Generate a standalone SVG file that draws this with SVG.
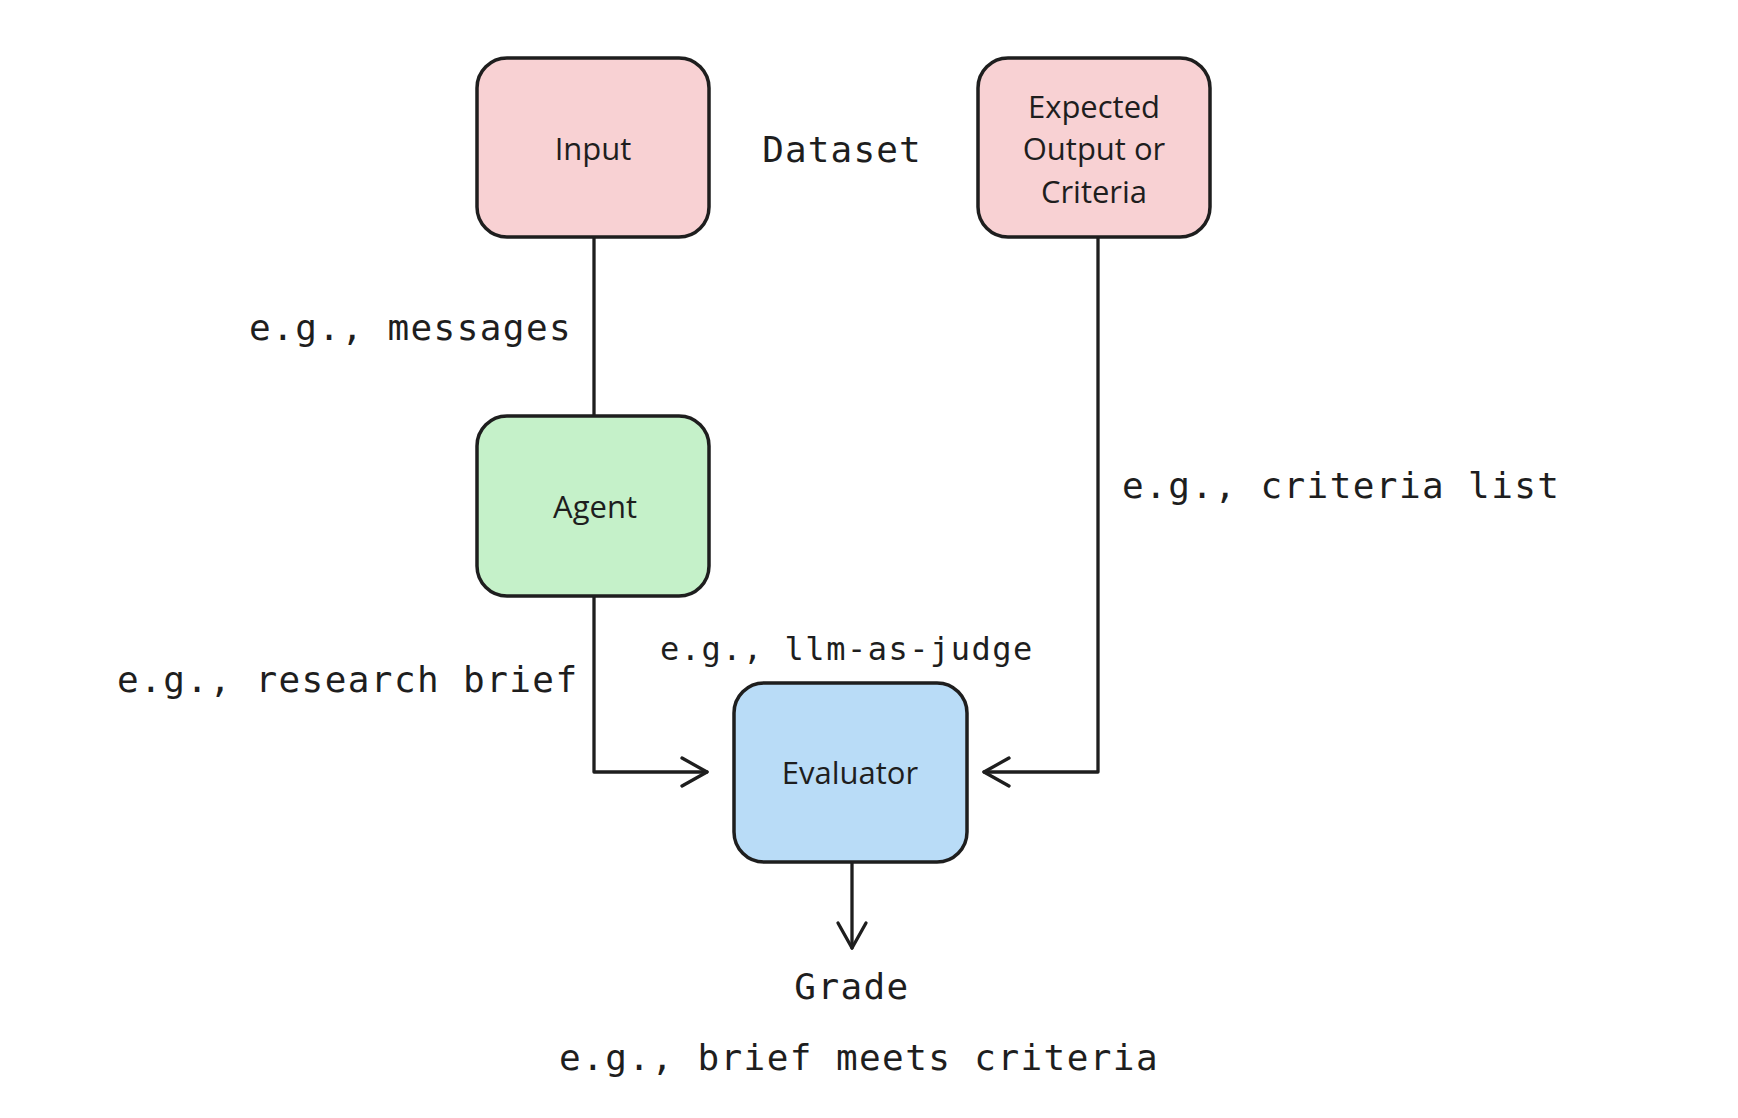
<svg xmlns="http://www.w3.org/2000/svg" width="1738" height="1118" viewBox="0 0 1738 1118">
<style>
.box{stroke:#1e1e1e;stroke-width:3.5}
.pink{fill:#f8d1d3}
.green{fill:#c5f1c9}
.blue{fill:#b9dcf7}
.lbl{font-family:"Open Sans","Noto Sans",sans-serif;font-size:31px;fill:#1e1e1e;text-anchor:middle;dominant-baseline:central}
.mono{font-family:"DejaVu Sans Mono","Liberation Mono",monospace;font-size:36px;letter-spacing:1.4px;fill:#1e1e1e;dominant-baseline:central}
.conn{fill:none;stroke:#1e1e1e;stroke-width:3.3;stroke-linecap:round;stroke-linejoin:round}
</style>
<rect width="1738" height="1118" fill="#ffffff"/>
<g id="connectors">
<path class="conn" d="M594 238 V416"/>
<path class="conn" d="M594 597 V772 H707"/>
<path class="conn" d="M682 758 L707 772 L682 786"/>
<path class="conn" d="M1098 238 V772 H984"/>
<path class="conn" d="M1009 758 L984 772 L1009 786"/>
<path class="conn" d="M852 863 V948"/>
<path class="conn" d="M838 923 L852 948 L866 923"/>
</g>
<g id="input">
<rect class="box pink" x="477" y="58" width="232" height="179" rx="30"/>
<text class="lbl" x="593" y="148">Input</text>
</g>
<g id="dataset">
<text class="mono" x="842" y="149" text-anchor="middle" style="letter-spacing:1.1px">Dataset</text>
</g>
<g id="expected">
<rect class="box pink" x="978" y="58" width="232" height="179" rx="30"/>
<text class="lbl" x="1094" y="106">Expected</text>
<text class="lbl" x="1094" y="148">Output or</text>
<text class="lbl" x="1094" y="191">Criteria</text>
</g>
<g id="agent">
<rect class="box green" x="477" y="416" width="232" height="180" rx="30"/>
<text class="lbl" x="595" y="506">Agent</text>
</g>
<g id="evaluator">
<rect class="box blue" x="734" y="683" width="233" height="179" rx="30"/>
<text class="lbl" x="850" y="772">Evaluator</text>
</g>
<g id="labels">
<text class="mono" x="249" y="327">e.g., messages</text>
<text class="mono" x="1122" y="485">e.g., criteria list</text>
<text class="mono" x="117" y="679">e.g., research brief</text>
<text class="mono" x="660" y="649" style="font-size:32px;letter-spacing:1.5px">e.g., llm-as-judge</text>
</g>
<g id="grade">
<text class="mono" x="852" y="986" text-anchor="middle">Grade</text>
<text class="mono" x="859" y="1057" text-anchor="middle">e.g., brief meets criteria</text>
</g>
</svg>
